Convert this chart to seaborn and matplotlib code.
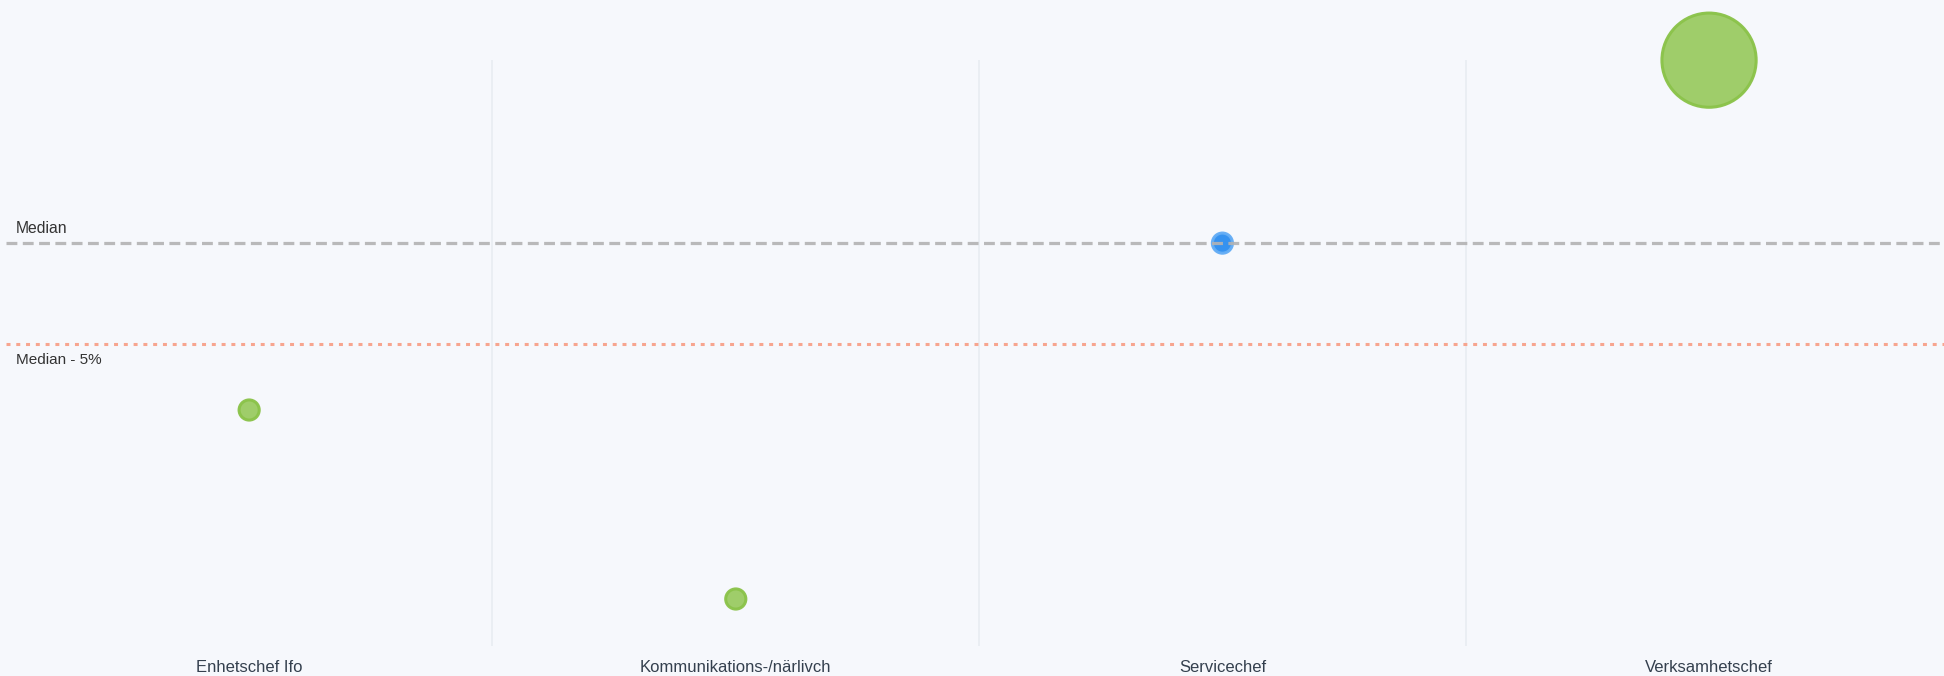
import numpy as np
import pandas as pd
import seaborn as sns
import matplotlib.pyplot as plt

# Data (salary as % of median, number of employees per role)
categories = ["Enhetschef Ifo", "Kommunikations-/närlivch", "Servicechef", "Verksamhetschef"]
values = [91.7, 82.3, 100.0, 109.1]
counts = [1, 1, 1, 22]
status = ["under", "under", "median", "over"]
median_value = 100.0
median_minus_5 = 95.0

df = pd.DataFrame({"roll": categories, "varde": values, "antal": counts, "status": status})

bg = "#f6f8fc"
sns.set_theme(style="white")
plt.rcParams["font.family"] = ["Liberation Sans", "DejaVu Sans"]

fig = plt.figure(figsize=(19.44, 6.76), dpi=100, facecolor=bg)
ax = fig.add_axes([0.003, 0.044, 1.0013, 0.867], facecolor=bg)

palette = {"under": "#9ccc65", "median": "#2e8ff0", "over": "#9ccc65"}
edges = {"under": "#8bc34a", "median": "#64adf5", "over": "#8bc34a"}

sns.scatterplot(data=df, x="roll", y="varde", hue="status", palette=palette,
                size="antal", sizes=(210, 4600), size_norm=(1, 22),
                legend=False, ax=ax, linewidth=2.2, zorder=3, alpha=0.97)
pts = ax.collections[0]
pts.set_edgecolor([edges[s] for s in status])
pts.set_clip_on(False)

# reference lines
ax.axhline(median_value, color="#b3b3b3", lw=2.3, dashes=(3.4, 1.7), zorder=4, alpha=0.9)
ax.axhline(median_minus_5, color="#f7a58f", lw=2.2, dashes=(1.3, 1.9), zorder=4)
ax.text(0.005, median_value + 0.35, "Median", transform=ax.get_yaxis_transform(),
        fontsize=11.3, color="#333333", va="bottom", ha="left")
ax.text(0.005, median_minus_5 - 0.45, "Median - 5%", transform=ax.get_yaxis_transform(),
        fontsize=11, color="#333333", va="top", ha="left")

# category separators
for b in np.arange(0.5, len(categories) - 1, 1.0):
    ax.axvline(b, color="#e8ecf2", lw=1.2, zorder=1)

ax.set_xlim(-0.5, len(categories) - 0.5)
ax.set_ylim(79.95, 109.1)
ax.set_xlabel("")
ax.set_ylabel("")
ax.set_yticks([])
ax.tick_params(axis="x", length=0, pad=10, labelsize=12, labelcolor="#34404e")
for s in ax.spines.values():
    s.set_visible(False)

fig.savefig("out.png", dpi=100, facecolor=bg)
